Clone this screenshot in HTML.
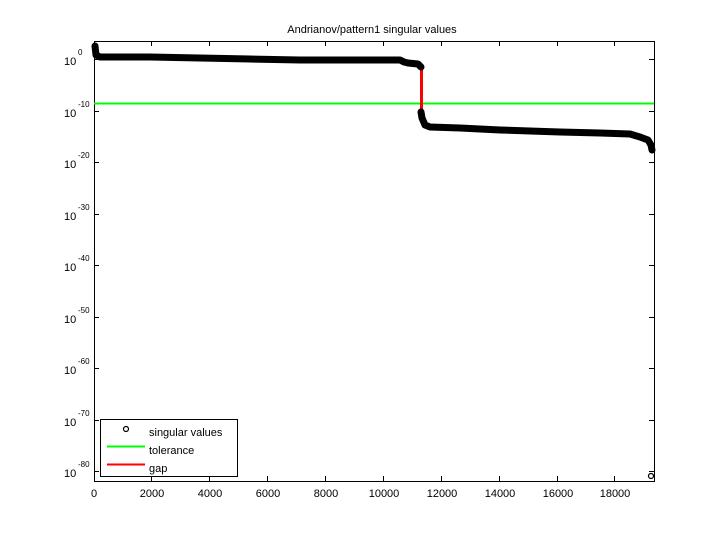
<html><body style="margin:0;background:#fff">
<svg width="720" height="540" viewBox="0 0 720 540" xmlns="http://www.w3.org/2000/svg" font-family="Liberation Sans, sans-serif" font-size="11">
<rect width="720" height="540" fill="#fff"/>
<text x="372" y="33" text-anchor="middle" font-size="11">Andrianov/pattern1 singular values</text>
<g stroke="#000" stroke-width="1" fill="none">
<rect x="94.5" y="41.5" width="560" height="440"/>
</g>
<line x1="94" y1="103.5" x2="654" y2="103.5" stroke="#00ff00" stroke-width="2"/>
<line x1="421.5" y1="70" x2="421.5" y2="115" stroke="#ff0000" stroke-width="3"/>
<g fill="none" stroke="#000" stroke-width="7" stroke-linejoin="round" stroke-linecap="round">
<polyline points="95,46 96,55 100,57 150,57 200,58 250,59 300,60 350,60 400,60 404,62 408,63 418,64 421,67"/>
<polyline points="421,112 422,118 425,125 430,127 460,128 500,130 560,132 600,133 630,134 640,137 648,140 651,145 652,150"/>
</g>
<circle cx="651" cy="476" r="2.5" fill="none" stroke="#000" stroke-width="1.2"/>
<g stroke="#000" stroke-width="1">
<path d="M94,59.5h5M94,111.5h5M94,162.5h5M94,214.5h5M94,265.5h5M94,317.5h5M94,368.5h5M94,420.5h5M94,471.5h5"/>
<path d="M654,59.5h-5M654,111.5h-5M654,162.5h-5M654,214.5h-5M654,265.5h-5M654,317.5h-5M654,368.5h-5M654,420.5h-5M654,471.5h-5"/>
<path d="M151.5,481v-5M209.5,481v-5M267.5,481v-5M325.5,481v-5M383.5,481v-5M441.5,481v-5M499.5,481v-5M557.5,481v-5M614.5,481v-5"/>
<path d="M151.5,41v5M209.5,41v5M267.5,41v5M325.5,41v5M383.5,41v5M441.5,41v5M499.5,41v5M557.5,41v5M614.5,41v5"/>
</g>
<g text-anchor="middle">
<text x="94" y="497">0</text><text x="152" y="497">2000</text><text x="210" y="497">4000</text><text x="268" y="497">6000</text><text x="326" y="497">8000</text><text x="384" y="497">10000</text><text x="442" y="497">12000</text><text x="500" y="497">14000</text><text x="558" y="497">16000</text><text x="615" y="497">18000</text>
</g>
<g>
<text x="64" y="65">10</text><text x="78" y="55" font-size="8">0</text>
<text x="64" y="117">10</text><text x="78" y="107" font-size="8">-10</text>
<text x="64" y="168">10</text><text x="78" y="158" font-size="8">-20</text>
<text x="64" y="220">10</text><text x="78" y="210" font-size="8">-30</text>
<text x="64" y="271">10</text><text x="78" y="261" font-size="8">-40</text>
<text x="64" y="323">10</text><text x="78" y="313" font-size="8">-50</text>
<text x="64" y="374">10</text><text x="78" y="364" font-size="8">-60</text>
<text x="64" y="426">10</text><text x="78" y="416" font-size="8">-70</text>
<text x="64" y="477">10</text><text x="78" y="467" font-size="8">-80</text>
</g>
<rect x="100.5" y="419.5" width="137" height="57" fill="#fff" stroke="#000"/>
<circle cx="126" cy="429" r="2.5" fill="none" stroke="#000" stroke-width="1.2"/>
<text x="149" y="436">singular values</text>
<line x1="107" y1="446.5" x2="145" y2="446.5" stroke="#00ff00" stroke-width="2"/>
<text x="149" y="454">tolerance</text>
<line x1="107" y1="464.5" x2="145" y2="464.5" stroke="#ff0000" stroke-width="2"/>
<text x="149" y="472">gap</text>
</svg>
</body></html>
